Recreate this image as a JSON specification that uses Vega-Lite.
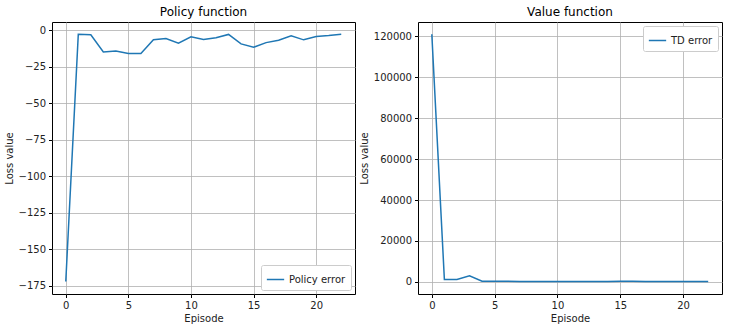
{
  "$schema": "https://vega.github.io/schema/vega-lite/v6.json",
  "padding": {"left": 3, "top": 5, "right": 4, "bottom": 0},
  "spacing": 2,
  "config": {
    "font": "DejaVu Sans",
    "view": {"stroke": "black", "strokeWidth": 1},
    "title": {"fontSize": 12, "fontWeight": "normal", "color": "black", "offset": 3},
    "axis": {
      "domain": false,
      "gridColor": "#b0b0b0",
      "gridWidth": 0.8,
      "gridOpacity": 1,
      "tickColor": "black",
      "tickSize": 3.5,
      "labelPadding": 3,
      "labelFontSize": 10,
      "labelColor": "#222",
      "titleFontSize": 10,
      "titleFontWeight": "normal",
      "titleColor": "#222",
      "titlePadding": 4
    },
    "axisX": {"titlePadding": 3},
    "legend": {
      "strokeColor": "#cccccc",
      "fillColor": "white",
      "padding": 5,
      "cornerRadius": 2,
      "labelFontSize": 10,
      "labelColor": "#222",
      "symbolType": "stroke",
      "symbolSize": 300,
      "symbolStrokeWidth": 1.5,
      "title": null
    }
  },
  "hconcat": [
    {
      "title": "Policy function",
      "width": 303,
      "height": 272,
      "data": {"values": [
        {"episode": 0, "loss": -172, "series": "Policy error"},
        {"episode": 1, "loss": -2.9, "series": "Policy error"},
        {"episode": 2, "loss": -3.2, "series": "Policy error"},
        {"episode": 3, "loss": -15, "series": "Policy error"},
        {"episode": 4, "loss": -14.4, "series": "Policy error"},
        {"episode": 5, "loss": -16, "series": "Policy error"},
        {"episode": 6, "loss": -16, "series": "Policy error"},
        {"episode": 7, "loss": -6.7, "series": "Policy error"},
        {"episode": 8, "loss": -5.8, "series": "Policy error"},
        {"episode": 9, "loss": -9, "series": "Policy error"},
        {"episode": 10, "loss": -4.6, "series": "Policy error"},
        {"episode": 11, "loss": -6.5, "series": "Policy error"},
        {"episode": 12, "loss": -5.3, "series": "Policy error"},
        {"episode": 13, "loss": -3, "series": "Policy error"},
        {"episode": 14, "loss": -9.5, "series": "Policy error"},
        {"episode": 15, "loss": -11.8, "series": "Policy error"},
        {"episode": 16, "loss": -8.6, "series": "Policy error"},
        {"episode": 17, "loss": -7, "series": "Policy error"},
        {"episode": 18, "loss": -4, "series": "Policy error"},
        {"episode": 19, "loss": -6.7, "series": "Policy error"},
        {"episode": 20, "loss": -4.4, "series": "Policy error"},
        {"episode": 21, "loss": -3.7, "series": "Policy error"},
        {"episode": 22, "loss": -2.8, "series": "Policy error"}
      ]},
      "mark": {"type": "line", "strokeWidth": 1.5},
      "encoding": {
        "x": {"field": "episode", "type": "quantitative", "title": "Episode",
              "scale": {"domain": [-1.1, 23.1], "nice": false, "zero": false},
              "axis": {"values": [0, 5, 10, 15, 20]}},
        "y": {"field": "loss", "type": "quantitative", "title": "Loss value",
              "scale": {"domain": [-180.5, 5.5], "nice": false, "zero": false},
              "axis": {"values": [-175, -150, -125, -100, -75, -50, -25, 0]}},
        "color": {"field": "series", "type": "nominal",
                  "scale": {"range": ["#1f77b4"]},
                  "legend": {"orient": "bottom-right", "offset": 4}}
      }
    },
    {
      "title": "Value function",
      "width": 304,
      "height": 272,
      "data": {"values": [
        {"episode": 0, "loss": 121000, "series": "TD error"},
        {"episode": 1, "loss": 1200, "series": "TD error"},
        {"episode": 2, "loss": 1200, "series": "TD error"},
        {"episode": 3, "loss": 3000, "series": "TD error"},
        {"episode": 4, "loss": 300, "series": "TD error"},
        {"episode": 5, "loss": 350, "series": "TD error"},
        {"episode": 6, "loss": 350, "series": "TD error"},
        {"episode": 7, "loss": 250, "series": "TD error"},
        {"episode": 8, "loss": 200, "series": "TD error"},
        {"episode": 9, "loss": 200, "series": "TD error"},
        {"episode": 10, "loss": 200, "series": "TD error"},
        {"episode": 11, "loss": 180, "series": "TD error"},
        {"episode": 12, "loss": 180, "series": "TD error"},
        {"episode": 13, "loss": 200, "series": "TD error"},
        {"episode": 14, "loss": 250, "series": "TD error"},
        {"episode": 15, "loss": 300, "series": "TD error"},
        {"episode": 16, "loss": 300, "series": "TD error"},
        {"episode": 17, "loss": 250, "series": "TD error"},
        {"episode": 18, "loss": 250, "series": "TD error"},
        {"episode": 19, "loss": 250, "series": "TD error"},
        {"episode": 20, "loss": 230, "series": "TD error"},
        {"episode": 21, "loss": 200, "series": "TD error"},
        {"episode": 22, "loss": 150, "series": "TD error"}
      ]},
      "mark": {"type": "line", "strokeWidth": 1.5},
      "encoding": {
        "x": {"field": "episode", "type": "quantitative", "title": "Episode",
              "scale": {"domain": [-1.1, 23.1], "nice": false, "zero": false},
              "axis": {"values": [0, 5, 10, 15, 20]}},
        "y": {"field": "loss", "type": "quantitative", "title": "Loss value",
              "scale": {"domain": [-5900, 127000], "nice": false, "zero": false},
              "axis": {"values": [0, 20000, 40000, 60000, 80000, 100000, 120000], "format": "d"}},
        "color": {"field": "series", "type": "nominal",
                  "scale": {"range": ["#1f77b4"]},
                  "legend": {"orient": "top-right", "offset": 4}}
      }
    }
  ],
  "resolve": {"scale": {"color": "independent", "y": "independent", "x": "independent"}, "legend": {"color": "independent"}}
}
